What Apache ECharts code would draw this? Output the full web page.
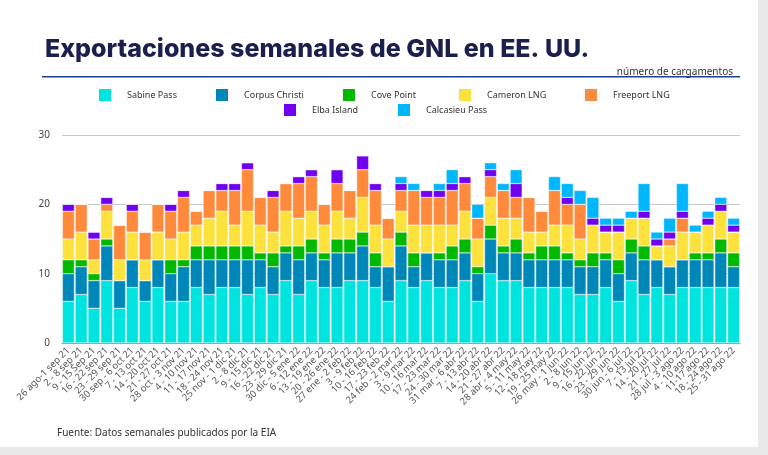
<!DOCTYPE html>
<html><head><meta charset="utf-8">
<script src="https://cdn.jsdelivr.net/npm/echarts@6/dist/echarts.min.js"></script>
<style>html,body{margin:0;padding:0;background:#e9e9ea;}
#card{position:absolute;left:0;top:0;width:758px;height:447px;background:#fff;}
#c{width:758px;height:447px;}</style></head>
<body><div id="card"><div id="c"></div></div>
<script>
const categories = ["26 ago-1 sep 21","2 - 8 sep 21","9 - 15 Sep 21","16 - 22 sep 21","23 - 29 sep 21","30 sep - 6 oct 21","7 - 13 oct 21","14 - 20 oct 21","21 - 27 oct 21","28 oct - 3 nov 21","4 - 10 nov 21","11 - 17 nov 21","18 - 24 nov 21","25 nov - 1 dic 21","2 - 8 dic 21","9 - 15 dic 21","16 - 22 dic 21","23 - 29 dic 21","30 dic - 5 ene 22","6 - 12 ene 22","13 - 19 ene 22","20 - 26 ene 22","27 ene - 2 feb 22","3 - 9 feb 22","10 - 16 feb 22","17 - 23 feb 22","24 feb - 2 mar 22","3 - 9 mar 22","10 - 16 mar 22","17 - 23 mar 22","24 - 30 mar 22","31 mar - 6 abr 22","7 - 13 abr 22","14 - 20 abr 22","21 - 27 abr 22","28 abr - 4 may 22","5 - 11 may 22","12 - 18 may 22","19 - 25 may 22","26 may - 1 jun 22","2 - 8 jun 22","9 - 15 jun 22","16 - 22 jun 22","23 - 29 jun 22","30 jun - 6 jul 22","7 - 13 jul 22","14 - 20 jul 22","21 - 27 jul 22","28 jul - 3 ago 22","4 - 10 ago 22","11-17 ago 22","18 - 24 ago 22","25 - 31 ago 22"];
const sabinePass    = [6,7,5,9,5,8,6,8,6,6,8,7,8,8,7,8,7,9,7,9,8,8,9,9,8,6,9,8,9,8,8,9,6,10,9,9,8,8,8,8,7,7,8,6,9,7,8,7,8,8,8,8,8];
const corpusChristi = [4,4,4,5,4,4,3,4,4,5,4,5,4,4,5,4,4,4,5,4,4,5,4,5,3,5,5,3,4,4,4,4,4,5,4,4,4,4,4,4,4,4,4,4,4,5,4,4,4,4,4,5,3];
const covePoint     = [2,1,1,1,0,0,0,0,2,1,2,2,2,2,2,1,2,1,2,2,1,2,2,2,2,0,2,2,0,1,2,2,1,2,1,2,1,2,2,1,1,2,1,2,2,2,0,0,0,1,1,2,2];
const cameronLNG    = [3,4,2,4,3,4,3,4,3,4,3,4,5,3,5,4,3,5,4,4,4,4,3,5,4,4,3,4,4,4,3,4,4,4,4,3,3,2,3,4,3,4,3,4,3,4,2,3,4,3,4,4,3];
const freeportLNG   = [4,4,3,1,5,3,4,4,4,5,2,4,3,5,6,4,5,4,5,5,3,4,4,4,5,3,3,5,4,4,5,4,3,3,4,3,5,3,5,3,5,0,0,0,0,0,0,1,2,0,0,0,0];
const elbaIsland    = [1,0,1,1,0,1,0,0,1,1,0,0,1,1,1,0,1,0,1,1,0,2,0,2,1,0,1,0,1,1,1,1,0,1,0,2,0,0,0,1,0,1,1,1,0,1,1,1,1,0,1,1,1];
const calcasieuPass = [0,0,0,0,0,0,0,0,0,0,0,0,0,0,0,0,0,0,0,0,0,0,0,0,0,0,1,1,0,1,2,0,2,1,1,2,0,0,2,2,2,3,1,1,1,4,1,2,4,1,1,1,1];
const yTicks = [0,10,20,30];
const names = ["Sabine Pass","Corpus Christi","Cove Point","Cameron LNG","Freeport LNG","Elba Island","Calcasieu Pass"];
const colors = ["#00e4e0","#0087b9","#00b900","#fde13c","#ff8a3c","#7000ef","#00b6fc"];
const values = [sabinePass,corpusChristi,covePoint,cameronLNG,freeportLNG,elbaIsland,calcasieuPass];
const legendPos = [[92,82],[209,82],[336,82],[452,82],[578,82],[277,97],[391,97]];
const chart = echarts.init(document.getElementById('c'));
chart.setOption({
  animation:false,
  color:colors,
  title:[{text:"Exportaciones semanales de GNL en EE. UU.",left:40,top:32,textStyle:{fontFamily:"Inter",fontWeight:800,fontSize:25,color:"#1b1f4d"}},
         {text:"número de cargamentos",right:20,top:62,textStyle:{fontFamily:"Noto Sans",fontWeight:"normal",fontSize:10,color:"#333"}},
         {text:"Fuente: Datos semanales publicados por la EIA",left:52,top:423,textStyle:{fontFamily:"Noto Sans",fontWeight:"normal",fontSize:10,color:"#333"}}],
  graphic:[{type:"rect",shape:{x:42,y:76,width:698,height:1.5},style:{fill:"#1e3f8c"}}],
  legend: names.map((n,i)=>({data:[n],left:legendPos[i][0],top:legendPos[i][1],itemWidth:14,itemHeight:14,itemGap:0,icon:"rect",
     textStyle:{fontFamily:"Noto Sans",fontSize:9,color:"#333",padding:[0,0,0,10]}})),
  grid:{left:62,right:18,top:135,bottom:104},
  xAxis:{type:"category",data:categories,
    axisLine:{lineStyle:{color:"#999"}},axisTick:{show:false},
    axisLabel:{interval:0,rotate:45,fontFamily:"Noto Sans",fontSize:9.5,color:"#555",margin:6}},
  yAxis:{type:"value",min:0,max:30,interval:10,
    axisLabel:{fontFamily:"Noto Sans",fontSize:10,color:"#444",margin:12},
    splitLine:{lineStyle:{color:"#c8c8c8"}}},
  series: names.map((n,i)=>({name:n,type:"bar",stack:"t",data:values[i],barCategoryGap:"6%",
     itemStyle:{color:colors[i],borderColor:"#fff",borderWidth:0.4}}))
});
</script></body></html>
